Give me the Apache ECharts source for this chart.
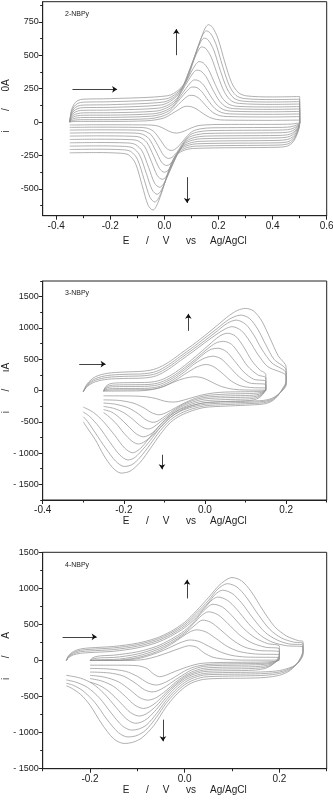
<!DOCTYPE html>
<html>
<head>
<meta charset="utf-8">
<script src="https://cdn.jsdelivr.net/npm/echarts@6/dist/echarts.min.js"></script>
<style>
  html, body { margin: 0; padding: 0; background: #fff; }
  #chart { width: 333px; height: 800px; }
</style>
</head>
<body>
<div id="chart"></div>
<script>
// ---- 数据：每条循环伏安曲线为 [E(V), i] 点列，先正扫再回扫 ----

// 2-NBPy：10 条扫描速率曲线，电位窗口 -0.35 ~ 0.5 V
const cv2NBPy = [
  [[-0.35,0],[-0.345,79],[-0.335,131],[-0.32,161],[-0.3,171],[-0.2,175],[0.013,197],[0.053,241],[0.083,317],[0.108,459],[0.133,612],[0.151,704],[0.163,728],[0.178,708],[0.198,625],[0.223,450],[0.248,297],[0.273,221],[0.303,196],[0.4,188],[0.5,191],
   [0.5,-12],[0.49,-94],[0.475,-150],[0.455,-179],[0.42,-188],[0.108,-197],[0.068,-215],[0.038,-260],[0.013,-377],[-0.012,-539],[-0.03,-630],[-0.042,-658],[-0.06,-623],[-0.082,-476],[-0.107,-309],[-0.132,-246],[-0.162,-233],[-0.25,-228],[-0.35,-230]],
  [[-0.35,0],[-0.345,68],[-0.335,114],[-0.32,140],[-0.3,149],[-0.2,152],[0.005,173],[0.045,215],[0.075,288],[0.1,423],[0.125,570],[0.143,658],[0.155,682],[0.17,664],[0.19,586],[0.215,419],[0.24,272],[0.265,199],[0.295,176],[0.4,168],[0.5,171],
   [0.5,-11],[0.49,-86],[0.475,-138],[0.455,-164],[0.42,-172],[0.115,-180],[0.075,-197],[0.045,-238],[0.02,-344],[-0.005,-492],[-0.023,-574],[-0.035,-598],[-0.053,-564],[-0.075,-429],[-0.1,-277],[-0.125,-219],[-0.155,-207],[-0.25,-203],[-0.35,-205]],
  [[-0.35,0],[-0.345,59],[-0.335,98],[-0.32,120],[-0.3,127],[-0.2,130],[-0.003,150],[0.037,189],[0.067,257],[0.092,384],[0.117,520],[0.135,603],[0.147,628],[0.162,613],[0.182,540],[0.207,384],[0.232,248],[0.257,179],[0.287,157],[0.4,150],[0.5,153],
   [0.5,-10],[0.49,-78],[0.475,-124],[0.455,-148],[0.42,-155],[0.123,-162],[0.083,-177],[0.053,-215],[0.028,-312],[0.003,-446],[-0.015,-521],[-0.027,-540],[-0.045,-508],[-0.067,-383],[-0.092,-245],[-0.117,-193],[-0.147,-182],[-0.25,-178],[-0.35,-180]],
  [[-0.35,0],[-0.345,50],[-0.335,83],[-0.32,101],[-0.3,108],[-0.2,110],[-0.012,128],[0.028,163],[0.058,225],[0.083,339],[0.108,463],[0.126,539],[0.138,562],[0.153,550],[0.173,485],[0.198,344],[0.223,220],[0.248,158],[0.278,139],[0.4,132],[0.5,135],
   [0.5,-9],[0.49,-69],[0.475,-110],[0.455,-130],[0.42,-137],[0.132,-144],[0.092,-158],[0.062,-192],[0.037,-281],[0.012,-404],[-0.006,-470],[-0.018,-487],[-0.036,-458],[-0.058,-341],[-0.083,-215],[-0.108,-167],[-0.138,-156],[-0.25,-153],[-0.35,-155]],
  [[-0.35,0],[-0.345,41],[-0.335,68],[-0.32,83],[-0.3,88],[-0.2,90],[-0.022,104],[0.018,132],[0.048,181],[0.073,272],[0.098,370],[0.116,432],[0.128,452],[0.143,444],[0.163,393],[0.188,281],[0.213,183],[0.238,134],[0.268,118],[0.4,113],[0.5,116],
   [0.5,-8],[0.49,-59],[0.475,-94],[0.455,-112],[0.42,-118],[0.142,-124],[0.102,-136],[0.072,-167],[0.047,-246],[0.022,-356],[0.004,-414],[-0.008,-428],[-0.026,-401],[-0.048,-296],[-0.073,-183],[-0.098,-140],[-0.128,-131],[-0.25,-128],[-0.35,-130]],
  [[-0.35,0],[-0.345,32],[-0.335,53],[-0.32,64],[-0.3,69],[-0.2,70],[-0.031,82],[0.009,107],[0.039,149],[0.064,229],[0.089,314],[0.107,369],[0.119,388],[0.134,382],[0.154,339],[0.179,242],[0.204,156],[0.229,113],[0.259,100],[0.4,95],[0.5,98],
   [0.5,-7],[0.49,-50],[0.475,-80],[0.455,-95],[0.42,-100],[0.15,-105],[0.11,-116],[0.08,-144],[0.055,-215],[0.03,-313],[0.012,-364],[0,-375],[-0.018,-348],[-0.04,-253],[-0.065,-152],[-0.09,-114],[-0.12,-106],[-0.25,-103],[-0.35,-105]],
  [[-0.35,0],[-0.345,23],[-0.335,39],[-0.32,48],[-0.3,51],[-0.2,52],[-0.04,62],[0,82],[0.03,117],[0.055,182],[0.08,252],[0.098,298],[0.11,315],[0.125,311],[0.145,277],[0.17,197],[0.195,127],[0.22,92],[0.25,81],[0.4,77],[0.5,80],
   [0.5,-6],[0.49,-40],[0.475,-64],[0.455,-76],[0.42,-80],[0.158,-85],[0.118,-95],[0.088,-119],[0.063,-183],[0.038,-271],[0.02,-315],[0.008,-325],[-0.01,-301],[-0.032,-215],[-0.057,-124],[-0.082,-90],[-0.112,-82],[-0.25,-80],[-0.35,-82]],
  [[-0.35,0],[-0.345,16],[-0.335,26],[-0.32,32],[-0.3,34],[-0.2,35],[-0.048,44],[-0.008,61],[0.022,91],[0.047,147],[0.072,207],[0.09,247],[0.102,262],[0.117,260],[0.137,230],[0.162,161],[0.187,101],[0.212,71],[0.242,61],[0.4,58],[0.5,61],
   [0.5,-5],[0.49,-30],[0.475,-48],[0.455,-57],[0.42,-60],[0.166,-64],[0.126,-73],[0.096,-94],[0.071,-149],[0.046,-226],[0.028,-264],[0.016,-272],[-0.002,-251],[-0.024,-175],[-0.049,-96],[-0.074,-67],[-0.104,-60],[-0.25,-58],[-0.35,-60]],
  [[-0.35,0],[-0.345,8],[-0.335,14],[-0.32,17],[-0.3,18],[-0.2,18],[-0.056,25],[-0.016,39],[0.014,63],[0.039,107],[0.064,156],[0.082,188],[0.094,200],[0.109,198],[0.129,176],[0.154,121],[0.179,72],[0.204,48],[0.234,41],[0.4,38],[0.5,41],
   [0.5,-4],[0.49,-20],[0.475,-32],[0.455,-38],[0.42,-40],[0.175,-43],[0.135,-50],[0.105,-68],[0.08,-113],[0.055,-175],[0.037,-206],[0.025,-212],[0.007,-195],[-0.015,-133],[-0.04,-69],[-0.065,-45],[-0.095,-40],[-0.25,-38],[-0.35,-40]],
  [[-0.35,0],[-0.345,2],[-0.335,4],[-0.32,5],[-0.3,5],[-0.2,5],[-0.068,9],[-0.028,18],[0.002,33],[0.027,62],[0.052,92],[0.07,113],[0.082,118],[0.097,116],[0.117,100],[0.142,65],[0.167,35],[0.192,20],[0.222,15],[0.4,13],[0.5,15],
   [0.5,-3],[0.49,-9],[0.475,-14],[0.455,-16],[0.42,-17],[0.194,-18],[0.154,-21],[0.124,-27],[0.099,-44],[0.074,-67],[0.056,-79],[0.044,-82],[0.026,-76],[0.004,-55],[-0.021,-31],[-0.046,-23],[-0.076,-21],[-0.25,-20],[-0.35,-22]]
];

// 3-NBPy：前 4 条窗口 -0.3 ~ 0.2 V，后 6 条窗口 -0.25 ~ 0.15 V
const cv3NBPy = [
  [[-0.3,-20],[-0.29,110],[-0.27,220],[-0.24,275],[-0.2,295],[-0.15,310],[-0.12,350],[-0.09,450],[-0.06,590],[-0.03,730],[0,880],[0.03,1040],[0.06,1200],[0.08,1280],[0.1,1312],[0.12,1270],[0.14,1110],[0.16,840],[0.18,560],[0.2,370],
   [0.2,150],[0.192,40],[0.18,-80],[0.165,-170],[0.145,-215],[0.1,-235],[0.05,-250],[0,-270],[-0.03,-320],[-0.06,-400],[-0.085,-510],[-0.11,-700],[-0.135,-930],[-0.16,-1150],[-0.185,-1290],[-0.207,-1320],[-0.228,-1230],[-0.25,-1030],[-0.27,-790],[-0.29,-600],[-0.3,-500]],
  [[-0.3,-20],[-0.29,95],[-0.27,190],[-0.24,240],[-0.2,258],[-0.15,268],[-0.12,305],[-0.09,410],[-0.06,550],[-0.03,690],[0,840],[0.03,990],[0.06,1140],[0.088,1205],[0.11,1150],[0.13,980],[0.15,730],[0.17,500],[0.2,320],
   [0.2,130],[0.192,25],[0.18,-75],[0.165,-155],[0.145,-195],[0.1,-212],[0.05,-225],[0,-245],[-0.03,-290],[-0.06,-365],[-0.085,-470],[-0.11,-640],[-0.135,-860],[-0.16,-1070],[-0.18,-1185],[-0.199,-1214],[-0.22,-1130],[-0.245,-920],[-0.27,-680],[-0.29,-490],[-0.3,-420]],
  [[-0.3,-20],[-0.29,80],[-0.27,165],[-0.24,210],[-0.2,226],[-0.15,236],[-0.12,270],[-0.09,375],[-0.06,515],[-0.03,655],[0,800],[0.03,950],[0.055,1075],[0.077,1125],[0.1,1060],[0.12,890],[0.14,660],[0.165,440],[0.2,275],
   [0.2,110],[0.192,15],[0.18,-70],[0.165,-140],[0.145,-175],[0.1,-190],[0.05,-200],[0,-220],[-0.03,-262],[-0.06,-330],[-0.085,-430],[-0.11,-590],[-0.135,-800],[-0.16,-990],[-0.175,-1080],[-0.19,-1110],[-0.21,-1030],[-0.235,-820],[-0.26,-590],[-0.285,-410],[-0.3,-345]],
  [[-0.3,-20],[-0.29,65],[-0.27,140],[-0.24,180],[-0.2,192],[-0.15,200],[-0.12,235],[-0.09,340],[-0.06,480],[-0.03,620],[0,765],[0.03,905],[0.05,985],[0.067,1020],[0.09,955],[0.11,790],[0.13,580],[0.155,380],[0.2,230],
   [0.2,90],[0.192,5],[0.18,-65],[0.165,-125],[0.145,-158],[0.1,-170],[0.05,-178],[0,-195],[-0.03,-235],[-0.06,-300],[-0.085,-395],[-0.11,-545],[-0.135,-740],[-0.155,-900],[-0.168,-970],[-0.178,-995],[-0.198,-920],[-0.222,-720],[-0.25,-500],[-0.275,-350],[-0.3,-265]],
  [[-0.25,-10],[-0.245,60],[-0.235,105],[-0.22,120],[-0.18,126],[-0.14,130],[-0.11,165],[-0.08,260],[-0.05,400],[-0.02,560],[0.01,730],[0.035,865],[0.055,915],[0.075,870],[0.095,700],[0.115,480],[0.135,330],[0.15,255],
   [0.15,40],[0.145,-40],[0.135,-110],[0.12,-150],[0.1,-165],[0.05,-175],[0,-195],[-0.03,-240],[-0.06,-320],[-0.085,-430],[-0.11,-590],[-0.135,-750],[-0.152,-830],[-0.164,-855],[-0.18,-810],[-0.2,-680],[-0.22,-520],[-0.24,-400],[-0.25,-355]],
  [[-0.25,-10],[-0.245,45],[-0.235,78],[-0.22,88],[-0.18,92],[-0.14,96],[-0.11,130],[-0.08,225],[-0.05,365],[-0.02,520],[0.005,660],[0.027,760],[0.045,785],[0.065,740],[0.085,580],[0.105,390],[0.13,250],[0.15,200],
   [0.15,30],[0.145,-35],[0.135,-92],[0.12,-125],[0.1,-137],[0.05,-145],[0,-165],[-0.03,-210],[-0.06,-290],[-0.085,-400],[-0.11,-550],[-0.13,-680],[-0.152,-740],[-0.17,-690],[-0.19,-565],[-0.21,-440],[-0.23,-345],[-0.25,-305]],
  [[-0.25,-10],[-0.245,30],[-0.235,54],[-0.22,61],[-0.18,64],[-0.14,68],[-0.11,100],[-0.08,195],[-0.05,335],[-0.02,490],[0,600],[0.016,660],[0.032,675],[0.052,625],[0.072,480],[0.095,300],[0.12,180],[0.15,145],
   [0.15,20],[0.145,-28],[0.135,-75],[0.12,-100],[0.1,-108],[0.05,-115],[0,-135],[-0.03,-185],[-0.06,-265],[-0.085,-375],[-0.11,-500],[-0.128,-590],[-0.14,-615],[-0.157,-575],[-0.178,-460],[-0.2,-355],[-0.225,-285],[-0.25,-255]],
  [[-0.25,-10],[-0.245,15],[-0.235,27],[-0.22,31],[-0.18,32],[-0.14,36],[-0.11,70],[-0.08,165],[-0.05,300],[-0.025,430],[0,520],[0.02,548],[0.04,505],[0.06,380],[0.085,215],[0.11,120],[0.15,92],
   [0.15,10],[0.145,-20],[0.135,-55],[0.12,-74],[0.1,-80],[0.05,-88],[0,-110],[-0.03,-160],[-0.06,-245],[-0.085,-350],[-0.105,-440],[-0.118,-495],[-0.128,-508],[-0.145,-470],[-0.165,-370],[-0.19,-275],[-0.22,-220],[-0.25,-200]],
  [[-0.25,-10],[-0.245,2],[-0.235,8],[-0.22,10],[-0.18,11],[-0.14,15],[-0.11,45],[-0.08,135],[-0.05,260],[-0.025,360],[-0.008,405],[0.003,415],[0.02,385],[0.04,290],[0.065,150],[0.09,70],[0.12,45],[0.15,38],
   [0.15,0],[0.145,-15],[0.135,-35],[0.12,-46],[0.1,-50],[0.05,-58],[0,-85],[-0.03,-140],[-0.06,-230],[-0.085,-320],[-0.103,-375],[-0.113,-388],[-0.13,-360],[-0.15,-280],[-0.175,-205],[-0.21,-160],[-0.25,-150]],
  [[-0.25,-10],[-0.2,-8],[-0.16,-5],[-0.13,15],[-0.1,70],[-0.075,140],[-0.05,195],[-0.025,220],[-0.005,200],[0.015,140],[0.04,65],[0.07,20],[0.1,8],[0.15,5],
   [0.15,-5],[0.14,-12],[0.12,-18],[0.1,-20],[0.05,-25],[0.02,-40],[-0.01,-75],[-0.04,-130],[-0.065,-175],[-0.08,-185],[-0.1,-170],[-0.12,-130],[-0.145,-100],[-0.18,-88],[-0.25,-85]]
];

// 4-NBPy：前 4 条窗口 -0.25 ~ 0.25 V，后 6 条窗口 -0.2 ~ 0.2 V
const cv4NBPy = [
  [[-0.25,0],[-0.245,70],[-0.235,125],[-0.22,160],[-0.2,175],[-0.15,195],[-0.1,240],[-0.06,310],[-0.03,400],[0,530],[0.025,690],[0.05,870],[0.075,1055],[0.1,1150],[0.12,1105],[0.14,960],[0.165,700],[0.19,470],[0.215,340],[0.24,275],[0.25,262],
   [0.25,150],[0.245,40],[0.235,-60],[0.22,-150],[0.2,-205],[0.17,-235],[0.13,-245],[0.08,-248],[0.04,-262],[0.015,-310],[0,-370],[-0.02,-490],[-0.04,-650],[-0.065,-900],[-0.09,-1070],[-0.11,-1135],[-0.128,-1150],[-0.15,-1085],[-0.175,-880],[-0.2,-620],[-0.22,-470],[-0.24,-380],[-0.25,-350]],
  [[-0.25,0],[-0.245,62],[-0.235,110],[-0.22,142],[-0.2,155],[-0.15,175],[-0.1,220],[-0.06,290],[-0.03,380],[0,505],[0.025,660],[0.05,830],[0.07,990],[0.09,1065],[0.11,1020],[0.13,880],[0.155,640],[0.18,430],[0.205,310],[0.23,255],[0.25,235],
   [0.25,130],[0.245,30],[0.235,-60],[0.22,-135],[0.2,-180],[0.17,-205],[0.13,-213],[0.08,-218],[0.04,-230],[0.015,-280],[0,-335],[-0.02,-450],[-0.04,-600],[-0.06,-790],[-0.083,-970],[-0.103,-1045],[-0.12,-1060],[-0.14,-1000],[-0.165,-810],[-0.19,-580],[-0.215,-420],[-0.235,-345],[-0.25,-315]],
  [[-0.25,0],[-0.245,52],[-0.235,94],[-0.22,122],[-0.2,133],[-0.15,152],[-0.1,198],[-0.06,268],[-0.03,358],[0,480],[0.025,630],[0.05,800],[0.065,920],[0.08,975],[0.1,930],[0.12,800],[0.145,580],[0.17,390],[0.195,285],[0.22,230],[0.25,210],
   [0.25,110],[0.245,20],[0.235,-60],[0.22,-120],[0.2,-160],[0.17,-180],[0.13,-188],[0.08,-192],[0.04,-202],[0.015,-250],[0,-305],[-0.02,-415],[-0.04,-560],[-0.06,-740],[-0.08,-890],[-0.097,-950],[-0.112,-965],[-0.132,-905],[-0.155,-730],[-0.18,-520],[-0.205,-375],[-0.23,-300],[-0.25,-270]],
  [[-0.25,0],[-0.245,42],[-0.235,78],[-0.22,100],[-0.2,110],[-0.15,128],[-0.1,175],[-0.06,245],[-0.03,335],[0,455],[0.025,600],[0.045,750],[0.058,840],[0.07,880],[0.09,835],[0.11,710],[0.135,510],[0.16,350],[0.185,255],[0.215,205],[0.25,185],
   [0.25,90],[0.245,10],[0.235,-60],[0.22,-105],[0.2,-140],[0.17,-157],[0.13,-164],[0.08,-168],[0.04,-180],[0.015,-225],[0,-275],[-0.02,-380],[-0.04,-520],[-0.06,-680],[-0.078,-800],[-0.092,-855],[-0.104,-870],[-0.123,-810],[-0.145,-650],[-0.17,-460],[-0.195,-320],[-0.22,-245],[-0.25,-205]],
  [[-0.2,0],[-0.195,35],[-0.185,58],[-0.17,68],[-0.15,74],[-0.1,120],[-0.06,195],[-0.03,290],[0,415],[0.02,540],[0.04,690],[0.06,780],[0.08,740],[0.1,620],[0.125,440],[0.15,310],[0.175,235],[0.2,200],
   [0.2,90],[0.195,10],[0.185,-60],[0.17,-110],[0.15,-132],[0.12,-140],[0.08,-143],[0.04,-155],[0.015,-200],[0,-250],[-0.02,-350],[-0.04,-480],[-0.06,-630],[-0.08,-735],[-0.096,-770],[-0.115,-720],[-0.135,-590],[-0.16,-430],[-0.18,-345],[-0.2,-300]],
  [[-0.2,0],[-0.195,20],[-0.185,33],[-0.17,39],[-0.15,42],[-0.1,90],[-0.06,170],[-0.03,265],[0,390],[0.02,520],[0.035,620],[0.05,675],[0.07,635],[0.09,520],[0.115,360],[0.14,250],[0.17,185],[0.2,160],
   [0.2,70],[0.195,0],[0.185,-55],[0.17,-92],[0.15,-108],[0.12,-115],[0.08,-118],[0.04,-132],[0.015,-180],[0,-230],[-0.02,-330],[-0.04,-450],[-0.06,-580],[-0.075,-645],[-0.087,-665],[-0.105,-620],[-0.125,-500],[-0.15,-360],[-0.175,-285],[-0.2,-250]],
  [[-0.2,0],[-0.195,7],[-0.185,11],[-0.17,13],[-0.15,14],[-0.1,62],[-0.06,145],[-0.03,240],[0,370],[0.02,480],[0.038,560],[0.055,530],[0.075,430],[0.1,290],[0.125,190],[0.155,140],[0.2,120],
   [0.2,50],[0.195,-5],[0.185,-45],[0.17,-72],[0.15,-85],[0.12,-90],[0.08,-93],[0.04,-108],[0.015,-158],[0,-210],[-0.02,-305],[-0.04,-420],[-0.06,-515],[-0.078,-550],[-0.095,-515],[-0.115,-410],[-0.14,-295],[-0.17,-230],[-0.2,-205]],
  [[-0.2,0],[-0.15,0],[-0.1,40],[-0.06,120],[-0.03,220],[-0.005,330],[0.012,400],[0.026,425],[0.045,395],[0.065,310],[0.09,195],[0.115,125],[0.15,90],[0.2,80],
   [0.2,30],[0.195,-10],[0.185,-35],[0.17,-52],[0.15,-60],[0.12,-65],[0.08,-68],[0.04,-82],[0.015,-130],[0,-185],[-0.02,-270],[-0.04,-360],[-0.057,-420],[-0.069,-436],[-0.085,-405],[-0.105,-310],[-0.13,-215],[-0.16,-172],[-0.2,-160]],
  [[-0.2,0],[-0.15,0],[-0.1,25],[-0.065,90],[-0.035,170],[-0.01,245],[0.012,285],[0.03,265],[0.05,200],[0.075,120],[0.1,70],[0.13,48],[0.2,40],
   [0.2,15],[0.19,-15],[0.175,-35],[0.15,-42],[0.1,-46],[0.05,-55],[0.02,-90],[0,-145],[-0.02,-225],[-0.04,-300],[-0.06,-340],[-0.078,-310],[-0.1,-220],[-0.125,-150],[-0.16,-118],[-0.2,-110]],
  [[-0.2,0],[-0.12,0],[-0.085,15],[-0.06,55],[-0.035,110],[-0.01,170],[0.01,205],[0.025,185],[0.04,110],[0.06,45],[0.09,15],[0.13,5],[0.2,5],
   [0.2,0],[0.19,-12],[0.17,-20],[0.12,-25],[0.06,-30],[0.03,-45],[0.005,-90],[-0.02,-150],[-0.04,-205],[-0.053,-225],[-0.065,-190],[-0.08,-110],[-0.1,-72],[-0.14,-65],[-0.2,-65]]
];

// 扫描方向箭头（数据坐标：起点 -> 终点）
const arrows2NBPy = [[[-0.34, 245], [-0.175, 245]], [[0.044, 500], [0.044, 695]], [[0.084, -412], [0.084, -605]]];
const arrows3NBPy = [[[-0.31, 422], [-0.245, 422]], [[-0.041, 953], [-0.041, 1225]], [[-0.106, -1027], [-0.106, -1260]]];
const arrows4NBPy = [[[-0.258, 328], [-0.186, 328]], [[0.005, 861], [0.005, 1120]], [[-0.046, -820], [-0.046, -1120]]];

// 刻度标签与次刻度
const xLabels2NBPy = [-0.4, -0.2, 0, 0.2, 0.4, 0.6];
const xMinor2NBPy = [-0.3, -0.1, 0.1, 0.3, 0.5];
const yLabels2NBPy = [-500, -250, 0, 250, 500, 750];
const yMinor2NBPy = [-625, -375, -125, 125, 375, 625, 875];

const xLabels3NBPy = [-0.4, -0.2, 0, 0.2];
const xMinor3NBPy = [-0.3, -0.1, 0.1, 0.3];
const yLabels3NBPy = [-1500, -1000, -500, 0, 500, 1000, 1500];
const yMinor3NBPy = [-1750, -1250, -750, -250, 250, 750, 1250, 1750];

const xLabels4NBPy = [-0.2, 0, 0.2];
const xMinor4NBPy = [-0.3, -0.1, 0.1, 0.3];
const yLabels4NBPy = [-1500, -1000, -500, 0, 500, 1000, 1500];
const yMinor4NBPy = [-1250, -750, -250, 250, 750, 1250];

// ---- 样式配置 ----
const FONT = '"Liberation Sans", Arial, sans-serif';
const LINE_COLOR = '#959595';
const AXIS_COLOR = '#222';
const X_NAME = 'E      /     V      vs     Ag/AgCl';

const panels = [
  { label: '2-NBPy', yName: 'i       /      0A', cv: cv2NBPy, arrows: arrows2NBPy,
    xMin: -0.45, xMax: 0.6, yMin: -700, yMax: 900,
    xLabels: xLabels2NBPy, xMinor: xMinor2NBPy, yLabels: yLabels2NBPy, yMinor: yMinor2NBPy,
    top: 1.7, height: 214, nameGap: 21, yNameY: 106 },
  { label: '3-NBPy', yName: 'i       /      ıA', cv: cv3NBPy, arrows: arrows3NBPy,
    xMin: -0.4, xMax: 0.3, yMin: -1750, yMax: 1750,
    xLabels: xLabels3NBPy, xMinor: xMinor3NBPy, yLabels: yLabels3NBPy, yMinor: yMinor3NBPy,
    top: 281, height: 219, nameGap: 13, yNameY: 388 },
  { label: '4-NBPy', yName: 'i       /      A', cv: cv4NBPy, arrows: arrows4NBPy,
    xMin: -0.3, xMax: 0.3, yMin: -1500, yMax: 1500,
    xLabels: xLabels4NBPy, xMinor: xMinor4NBPy, yLabels: yLabels4NBPy, yMinor: yMinor4NBPy,
    top: 552.3, height: 216.4, nameGap: 12.5, yNameY: 656 }
];

const fmtY = (v) => (v <= -1000 ? '- ' + (-v) : String(v));
const fmtX = (v) => v.toFixed(1);

const option = {
  animation: false,
  backgroundColor: '#fff',
  title: [], grid: [], xAxis: [], yAxis: [], series: [], graphic: []
};

panels.forEach((p, i) => {
  option.grid.push({
    left: 42.7, top: p.top, width: 284, height: p.height,
    outerBoundsMode: 'none', containLabel: false,
    show: true, borderColor: AXIS_COLOR, borderWidth: 1
  });
  option.title.push({
    text: p.label, left: 60, top: p.top + 4,
    textStyle: { fontSize: 7, fontWeight: 'normal', color: AXIS_COLOR, fontFamily: FONT }
  });
  // 纵轴标题（竖排，自下而上）
  option.graphic.push({
    type: 'text', x: 6, y: p.yNameY, rotation: Math.PI / 2, silent: true,
    style: { text: p.yName, align: 'center', verticalAlign: 'middle', fill: AXIS_COLOR, font: '10px ' + FONT }
  });

  // 主坐标轴：标签 + 长刻度；次坐标轴：只画短刻度（同一侧）
  option.xAxis.push({
    type: 'value', gridIndex: i, position: 'bottom', min: p.xMin, max: p.xMax,
    axisLine: { onZero: false, lineStyle: { color: AXIS_COLOR, width: 1 } },
    axisTick: { customValues: p.xLabels, length: 4, lineStyle: { color: AXIS_COLOR } },
    axisLabel: { customValues: p.xLabels, formatter: fmtX, fontSize: 10, margin: 5.5, color: AXIS_COLOR, fontFamily: FONT },
    splitLine: { show: false },
    name: X_NAME, nameLocation: 'middle', nameGap: p.nameGap,
    nameTextStyle: { fontSize: 10, color: AXIS_COLOR, fontFamily: FONT }
  }, {
    type: 'value', gridIndex: i, position: 'bottom', min: p.xMin, max: p.xMax,
    axisLine: { show: false, onZero: false },
    axisTick: { customValues: p.xMinor, length: 2.5, lineStyle: { color: AXIS_COLOR } },
    axisLabel: { show: false }, splitLine: { show: false }
  });
  option.yAxis.push({
    type: 'value', gridIndex: i, position: 'left', min: p.yMin, max: p.yMax,
    axisLine: { show: true, onZero: false, lineStyle: { color: AXIS_COLOR, width: 1 } },
    axisTick: { show: true, customValues: p.yLabels, length: 4, lineStyle: { color: AXIS_COLOR } },
    axisLabel: { customValues: p.yLabels, formatter: fmtY, fontSize: 9, margin: 4, color: AXIS_COLOR, fontFamily: FONT },
    splitLine: { show: false }
  }, {
    type: 'value', gridIndex: i, position: 'left', min: p.yMin, max: p.yMax,
    axisLine: { show: false, onZero: false },
    axisTick: { show: true, customValues: p.yMinor, length: 2.5, lineStyle: { color: AXIS_COLOR } },
    axisLabel: { show: false }, splitLine: { show: false }
  });

  p.cv.forEach((curve) => {
    option.series.push({
      type: 'line', xAxisIndex: 2 * i, yAxisIndex: 2 * i, data: curve,
      showSymbol: false, smooth: 0.3, silent: true,
      lineStyle: { color: LINE_COLOR, width: 0.75 }
    });
  });

  option.series.push({
    type: 'lines', coordinateSystem: 'cartesian2d', xAxisIndex: 2 * i, yAxisIndex: 2 * i,
    data: p.arrows.map((a) => ({ coords: a })),
    symbol: ['none', 'arrow'], symbolSize: 5, silent: true,
    lineStyle: { color: '#111', width: 0.8, opacity: 1 }
  });
});

const chart = echarts.init(document.getElementById('chart'), null, { renderer: 'canvas' });
chart.setOption(option);
</script>
</body>
</html>
